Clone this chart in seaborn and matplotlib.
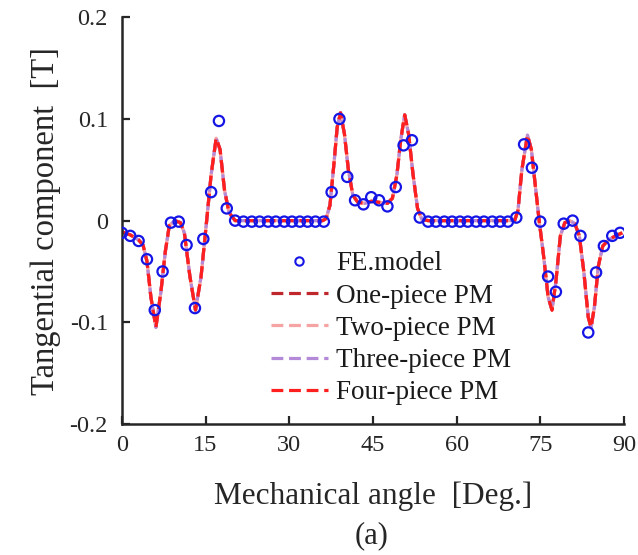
import numpy as np
import pandas as pd
import matplotlib
matplotlib.use("Agg")
import matplotlib.pyplot as plt
from matplotlib.lines import Line2D
import seaborn as sns

# ---------------- data ----------------
fe_angle = [0.0, 1.5, 3.0, 4.5, 5.9, 7.3, 8.8, 10.2, 11.6, 13.1, 14.6, 16.0, 17.4, 18.8,
            20.3, 21.8, 23.3, 24.7, 26.2, 27.6, 29.1, 30.5, 31.9, 33.3, 34.7, 36.2,
            37.6, 39.0, 40.4, 41.8, 43.3, 44.7, 46.1, 47.6, 49.1, 50.5, 52.0, 53.4,
            54.9, 56.3, 57.8, 59.2, 60.6, 62.0, 63.5, 64.9, 66.4, 67.8, 69.2, 70.7,
            72.1, 73.5, 75.0, 76.4, 77.8, 79.2, 80.8, 82.2, 83.6, 85.0, 86.4, 87.9, 89.3]
fe_value = [-0.012, -0.015, -0.020, -0.038, -0.088, -0.050, -0.002, -0.001, -0.024, -0.086,
            -0.018, 0.028, 0.098, 0.012,
            0.000, -0.001, -0.001, -0.001, -0.001, -0.001, -0.001, -0.001, -0.001, -0.001, -0.001, -0.001,
            0.028, 0.100, 0.043, 0.020, 0.016, 0.023, 0.020, 0.014, 0.033, 0.074, 0.079, 0.003,
            -0.001, -0.001, -0.001, -0.001, -0.001, -0.001, -0.001, -0.001, -0.001, -0.001, -0.001, 0.003,
            0.075, 0.052, -0.001, -0.055, -0.070, -0.003, 0.000, -0.015, -0.110, -0.051, -0.025,
            -0.015, -0.012]

model_angle = [0.0, 1.5, 3.0, 3.8, 4.5, 5.2, 6.1, 7.0, 7.8, 8.5, 9.5, 10.5, 11.2, 12.2,
               13.2, 14.2, 15.2, 16.0, 16.9, 17.6, 18.4, 19.2, 20.3, 25.0, 30.0, 36.0,
               36.6, 37.3, 38.0, 38.6, 39.2, 39.9, 40.6, 41.4, 42.3, 43.5, 44.7, 46.1,
               47.6, 48.5, 49.3, 50.0, 50.7, 51.4, 52.2, 53.0, 53.8, 54.9, 60.0, 65.0,
               70.4, 71.0, 71.7, 72.7, 73.4, 74.1, 74.8, 75.6, 76.4, 77.1, 77.8, 78.6,
               79.4, 80.3, 81.2, 82.0, 82.8, 83.6, 84.1, 84.7, 85.4, 86.2, 87.2, 88.5, 89.7]
model_value = [-0.011, -0.014, -0.019, -0.024, -0.040, -0.075, -0.105, -0.070, -0.030, -0.005,
               0.000, -0.002, -0.012, -0.055, -0.088, -0.055, 0.000, 0.045, 0.081, 0.070,
               0.030, 0.008, 0.000, 0.000, 0.000, 0.000,
               0.002, 0.015, 0.055, 0.092, 0.106, 0.085, 0.050, 0.025, 0.018, 0.017, 0.019,
               0.018, 0.017, 0.022, 0.045, 0.080, 0.104, 0.085, 0.045, 0.012, 0.001, 0.000,
               0.000, 0.000, 0.000, 0.010, 0.050, 0.084, 0.070, 0.035, 0.000, -0.035, -0.075,
               -0.088, -0.060, -0.015, -0.002, 0.000, -0.003, -0.015, -0.050, -0.095, -0.105,
               -0.085, -0.045, -0.025, -0.019, -0.015, -0.012]

series_names = ["One-piece PM", "Two-piece PM", "Three-piece PM", "Four-piece PM"]
series_colors = ["#c0272d", "#f5a3a3", "#b48ad8", "#ff1f1f"]
fe_name = "FE.model"
fe_color = "#1515e6"

x_ticks = [0, 15, 30, 45, 60, 75, 90]
y_ticks = [-0.2, -0.1, 0.0, 0.1, 0.2]
y_tick_labels = ["-0.2", "-0.1", "0", "0.1", "0.2"]

# ---------------- style ----------------
sns.set_theme(style="ticks")
plt.rcParams["font.family"] = ["Liberation Serif", "DejaVu Serif"]

fig = plt.figure(figsize=(6.38, 5.55), dpi=100)
ax = fig.add_axes([0.191, 0.236, 0.787, 0.733])

offsets = [0, 2.5, 1.2, 0]
for name, col, off in zip(series_names, series_colors, offsets):
    df = pd.DataFrame({"angle": model_angle, "value": model_value})
    sns.lineplot(data=df, x="angle", y="value", ax=ax, color=col, lw=2.3,
                 linestyle=(off, (3.9, 1.8)), sort=False, estimator=None, legend=False)

fe_df = pd.DataFrame({"angle": fe_angle, "value": fe_value})
sns.scatterplot(data=fe_df, x="angle", y="value", ax=ax, marker="o",
                facecolor="none", edgecolor=fe_color, linewidth=1.6, s=55,
                zorder=5, legend=False)

ax.set_xlim(0, 90)
ax.set_ylim(-0.2, 0.2)
ax.set_xticks(x_ticks)
ax.set_xticklabels([str(t) for t in x_ticks])
ax.set_yticks(y_ticks)
ax.set_yticklabels(y_tick_labels)

for side in ["top", "right"]:
    ax.spines[side].set_visible(False)
for side in ["left", "bottom"]:
    ax.spines[side].set_linewidth(1.8)
    ax.spines[side].set_color("#262626")

ax.tick_params(axis="both", direction="in", length=6, width=1.6, color="#262626",
               labelsize=17.5, labelcolor="#262626")
ax.tick_params(axis="y", pad=10)
ax.tick_params(axis="x", pad=8)

ax.set_xlabel("Mechanical angle  [Deg.]", fontsize=22.5, color="#262626", labelpad=18)
ax.set_ylabel("Tangential component  [T]", fontsize=23.5, color="#262626", labelpad=6)

handles = [Line2D([], [], ls="none", marker="o", mfc="none", mec=fe_color, mew=1.5, ms=6)]
for name, col in zip(series_names, series_colors):
    handles.append(Line2D([], [], color=col, lw=2.3, ls=(0, (3.7, 1.8))))
labels = [fe_name] + series_names
leg = ax.legend(handles, labels, loc="upper left", bbox_to_anchor=(0.27, 0.458),
                frameon=False, fontsize=19.5, handlelength=2.1, handletextpad=0.3,
                labelspacing=0.27, borderpad=0)
for t in leg.get_texts():
    t.set_color("#1a1a1a")

fig.text(0.583, 0.035, "(a)", fontsize=22, ha="center", va="center", color="#262626")

fig.savefig("out.png", dpi=100)
